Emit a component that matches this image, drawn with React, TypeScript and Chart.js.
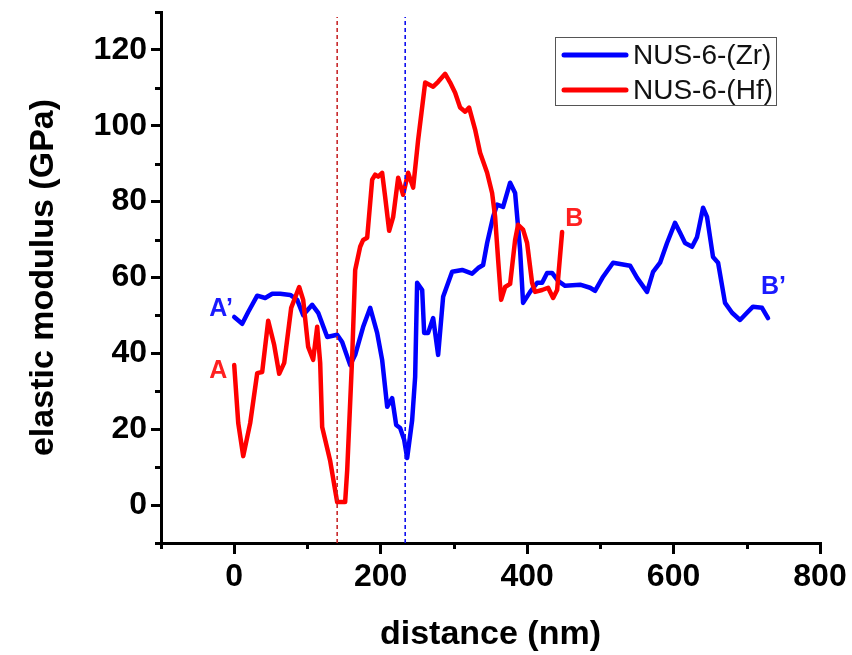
import { useEffect, useRef } from "react";
import { Chart, registerables } from "chart.js";

Chart.register(...registerables);

// ---- data ----
const seriesNames = ["NUS-6-(Zr)", "NUS-6-(Hf)"];

const zrDistance = [
  0, 10.9, 19.1, 31.4, 42.3, 51.9, 62.8, 76.5, 86.0, 94.2,
  106.5, 114.7, 127.0, 140.6, 147.4, 158.4, 165.2, 176.1, 185.7, 195.2,
  202.0, 208.9, 215.7, 221.2, 226.6, 232.1, 236.2, 243.0, 247.1, 249.8,
  256.7, 259.4, 264.8, 271.7, 278.5, 285.3, 297.6, 311.3, 324.9, 333.1,
  339.9, 345.4, 353.6, 359.0, 367.2, 376.8, 383.6, 390.4, 394.5, 404.1,
  413.7, 420.5, 427.3, 434.1, 442.3, 451.9, 472.4, 486.0, 492.8, 503.8,
  517.4, 540.6, 550.2, 563.8, 572.0, 581.6, 591.1, 602.0, 608.9, 615.7,
  625.3, 632.1, 640.3, 645.7, 653.9, 660.8, 670.3, 679.9, 690.8, 700.3,
  708.5, 720.8, 729.0,
];
const zrModulus = [
  49.6, 47.8, 50.9, 55.2, 54.6, 55.7, 55.7, 55.4, 54.1, 50.1,
  52.8, 50.7, 44.3, 44.9, 43.0, 36.9, 39.6, 47.0, 52.0, 45.4,
  38.3, 25.9, 28.2, 21.1, 20.3, 17.2, 12.4, 22.4, 33.8, 58.6,
  56.7, 45.4, 45.4, 49.3, 39.6, 54.9, 61.5, 62.0, 61.0, 62.5,
  63.3, 69.1, 76.0, 79.2, 78.6, 85.0, 82.3, 67.3, 53.3, 56.2,
  58.6, 58.6, 61.2, 61.2, 59.1, 57.8, 58.1, 57.3, 56.5, 60.2,
  63.9, 63.1, 59.9, 56.2, 61.5, 63.9, 69.1, 74.4, 71.8, 69.1,
  68.1, 70.7, 78.4, 76.0, 65.4, 63.9, 53.3, 50.7, 48.8, 50.7,
  52.3, 52.0, 49.3,
];

const hfDistance = [
  0, 5.5, 12.3, 21.8, 31.4, 38.2, 46.4, 54.6, 61.4, 68.3,
  77.8, 88.7, 94.2, 101.0, 107.8, 113.3, 117.4, 120.1, 131.1, 140.6,
  151.5, 154.3, 161.1, 165.2, 172.0, 176.1, 181.6, 188.4, 192.5, 196.6,
  202.0, 206.1, 211.6, 217.1, 223.9, 230.7, 237.5, 244.4, 251.2, 260.8,
  271.7, 278.5, 288.1, 294.9, 301.7, 308.5, 315.4, 320.8, 329.0, 335.8,
  345.4, 352.2, 356.3, 360.4, 364.5, 370.0, 376.8, 383.6, 387.7, 394.5,
  400.0, 406.8, 410.9, 420.5, 428.7, 435.5, 441.0, 447.8,
];
const hfModulus = [
  36.9, 21.6, 12.9, 21.6, 34.8, 35.1, 48.6, 42.2, 34.6, 37.5,
  52.0, 57.5, 54.1, 41.7, 38.3, 47.0, 37.5, 20.6, 11.6, 0.8,
  0.8, 9.2, 39.1, 62.0, 68.1, 69.9, 70.5, 85.8, 87.1, 86.6,
  87.6, 81.3, 72.3, 76.0, 86.3, 81.8, 87.6, 83.7, 96.3, 111.4,
  110.3, 111.6, 113.7, 111.4, 108.7, 104.8, 103.7, 104.8, 99.0, 92.9,
  87.6, 82.3, 76.0, 64.7, 54.1, 57.5, 58.3, 69.9, 73.9, 72.6,
  69.1, 58.6, 56.2, 56.7, 57.3, 54.6, 56.7, 72.0,
];

// vertical dashed marker lines (distance), Hf then Zr
const markerDistances = [140.6, 233.5];
const markerTop = 128.7;

// axis ticks
const xTickValues = [0, 200, 400, 600, 800];
const xMinorTickValues = [-100, 100, 300, 500, 700];
const yTickValues = [0, 20, 40, 60, 80, 100, 120];
const yMinorTickValues = [-10, 10, 30, 50, 70, 90, 110, 130];

// end-point labels
const endLabels = ["A’", "A", "B", "B’"];
const endLabelX = [-34, -34, 452, 719.5];
const endLabelY = [51.7, 35.4, 75.5, 57.4];

const BLUE = "#0000ff";
const RED = "#ff0000";
const FONT = "'Liberation Sans', Arial, sans-serif";

export default function App() {
  const ref = useRef<HTMLCanvasElement | null>(null);

  useEffect(() => {
    document.body.style.margin = "0";
    const canvas = ref.current;
    if (!canvas) return;

    const decor = {
      id: "decor",
      afterDraw(chart: any) {
        const { ctx, chartArea, scales } = chart;
        const xs = scales.x;
        const ys = scales.y;
        ctx.save();
        // minor ticks
        ctx.strokeStyle = "#000";
        ctx.lineWidth = 3;
        ctx.beginPath();
        xMinorTickValues.forEach((v) => {
          const px = Math.round(xs.getPixelForValue(v)) + 0.5;
          ctx.moveTo(px, chartArea.bottom);
          ctx.lineTo(px, chartArea.bottom + 6);
        });
        yMinorTickValues.forEach((v) => {
          const py = Math.round(ys.getPixelForValue(v)) + 0.5;
          ctx.moveTo(chartArea.left - 6, py);
          ctx.lineTo(chartArea.left, py);
        });
        ctx.stroke();

        // end labels
        ctx.font = `bold 25px ${FONT}`;
        ctx.textAlign = "left";
        ctx.textBaseline = "middle";
        const labelColors = ["#1a1aff", "#ff2020", "#ff2020", "#1a1aff"];
        endLabels.forEach((t, i) => {
          ctx.fillStyle = labelColors[i];
          ctx.fillText(t, xs.getPixelForValue(endLabelX[i]), ys.getPixelForValue(endLabelY[i]));
        });

        // legend
        const bx = 555.5, by = 37.5, bw = 221, bh = 68;
        ctx.fillStyle = "#fff";
        ctx.fillRect(bx, by, bw, bh);
        ctx.strokeStyle = "#555";
        ctx.lineWidth = 1;
        ctx.strokeRect(bx, by, bw, bh);
        const colors = [BLUE, RED];
        ctx.font = `28px ${FONT}`;
        ctx.textAlign = "left";
        ctx.textBaseline = "middle";
        seriesNames.forEach((name, i) => {
          const ly = by + 17.5 + i * 35;
          ctx.strokeStyle = colors[i];
          ctx.lineWidth = 5;
          ctx.lineCap = "round";
          ctx.beginPath();
          ctx.moveTo(564, ly);
          ctx.lineTo(626, ly);
          ctx.stroke();
          ctx.fillStyle = "#111";
          ctx.fillText(name, 633, ly + 1);
        });
        ctx.restore();
      },
    };

    const zeroPad = (s: any) => {
      s.paddingTop = 0;
      s.paddingBottom = 0;
      s.paddingLeft = 0;
      s.paddingRight = 0;
    };

    const chart = new Chart(canvas, {
      type: "line",
      data: {
        datasets: [
          {
            label: "markerHf",
            data: [
              { x: markerDistances[0], y: -10 },
              { x: markerDistances[0], y: markerTop },
            ],
            borderColor: "#c8282a",
            borderWidth: 1.6,
            borderDash: [4, 3],
            pointRadius: 0,
            order: 0,
          },
          {
            label: "markerZr",
            data: [
              { x: markerDistances[1], y: -10 },
              { x: markerDistances[1], y: markerTop },
            ],
            borderColor: "#1010ee",
            borderWidth: 1.6,
            borderDash: [4, 3],
            pointRadius: 0,
            order: 0,
          },
          {
            label: seriesNames[1],
            data: hfDistance.map((x, i) => ({ x, y: hfModulus[i] })),
            borderColor: RED,
            borderWidth: 4.5,
            pointRadius: 0,
            tension: 0,
            borderJoinStyle: "round",
            borderCapStyle: "round",
            order: 1,
          },
          {
            label: seriesNames[0],
            data: zrDistance.map((x, i) => ({ x, y: zrModulus[i] })),
            borderColor: BLUE,
            borderWidth: 4.5,
            pointRadius: 0,
            tension: 0,
            borderJoinStyle: "round",
            borderCapStyle: "round",
            order: 2,
          },
        ],
      },
      options: {
        animation: false,
        responsive: false,
        maintainAspectRatio: false,
        layout: { padding: { left: 0, right: 32, top: 12, bottom: 0 } },
        plugins: {
          legend: { display: false },
          tooltip: { enabled: false },
        },
        scales: {
          x: {
            type: "linear",
            min: -100,
            max: 800,
            afterBuildTicks: (s: any) => {
              s.ticks = xTickValues.map((v) => ({ value: v }));
            },
            afterFit: (s: any) => {
              s.height = 112;
              zeroPad(s);
            },
            grid: {
              display: true,
              drawOnChartArea: false,
              drawTicks: true,
              tickLength: 11,
              color: "#000",
              lineWidth: 3,
            },
            border: { display: true, color: "#000", width: 3 },
            ticks: {
              color: "#000",
              padding: 4,
              maxRotation: 0,
              font: { family: FONT, size: 32, weight: "bold" },
            },
            title: {
              display: true,
              text: "distance (nm)",
              color: "#000",
              padding: { top: 2, bottom: 0 },
              font: { family: FONT, size: 34, weight: "bold" },
            },
          },
          y: {
            type: "linear",
            min: -10,
            max: 130,
            afterBuildTicks: (s: any) => {
              s.ticks = yTickValues.map((v) => ({ value: v }));
            },
            afterFit: (s: any) => {
              s.width = 161;
              zeroPad(s);
            },
            grid: {
              display: true,
              drawOnChartArea: false,
              drawTicks: true,
              tickLength: 10,
              color: "#000",
              lineWidth: 3,
            },
            border: { display: true, color: "#000", width: 3 },
            ticks: {
              color: "#000",
              padding: 4,
              font: { family: FONT, size: 32, weight: "bold" },
            },
            title: {
              display: true,
              text: "elastic modulus (GPa)",
              color: "#000",
              padding: { top: 23, bottom: 0 },
              font: { family: FONT, size: 34, weight: "bold" },
            },
          },
        },
      },
      plugins: [decor],
    });

    return () => {
      chart.destroy();
    };
  }, []);

  return (
    <div style={{ width: 852, height: 655, background: "#fff" }}>
      <canvas ref={ref} width={852} height={655} style={{ display: "block" }} />
    </div>
  );
}
